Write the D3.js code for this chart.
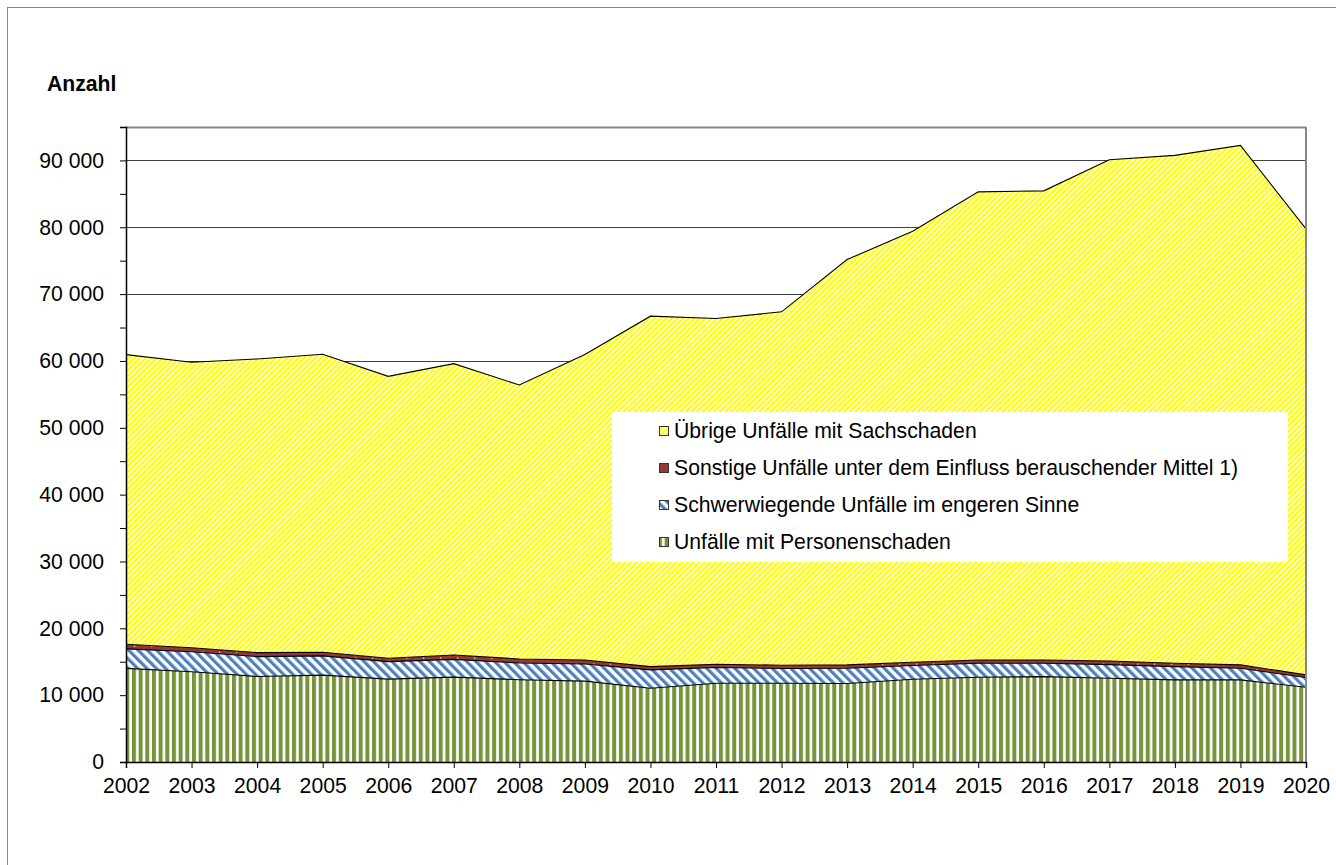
<!DOCTYPE html>
<html>
<head>
<meta charset="utf-8">
<script src="https://cdn.jsdelivr.net/npm/d3@7"></script>
<style>
  body { margin: 0; background: #fff; }
  svg { display: block; font-family: "Liberation Sans", Arial, sans-serif; }
</style>
</head>
<body>
<div id="chart"></div>
<script>
// values
var years = [2002, 2003, 2004, 2005, 2006, 2007, 2008, 2009, 2010, 2011, 2012, 2013, 2014, 2015, 2016, 2017, 2018, 2019, 2020];
var personenschaden = [14000, 13500, 12800, 13000, 12400, 12700, 12300, 12100, 11030, 11780, 11780, 11750, 12380, 12680, 12780, 12530, 12280, 12280, 11180];
var schwerwiegend = [2920, 3000, 2970, 2870, 2620, 2650, 2520, 2570, 2750, 2350, 2200, 2280, 2050, 2100, 2000, 2040, 1990, 1750, 1450];
var sonstige = [700, 600, 600, 550, 500, 650, 600, 600, 490, 500, 500, 500, 500, 490, 490, 550, 510, 500, 400];
var uebrige = [43330, 42700, 43930, 44580, 42180, 43600, 40980, 45680, 52430, 51720, 52870, 60640, 64470, 70030, 70180, 74980, 75970, 77720, 66720];

var keys = ['personen', 'schwer', 'sonstige', 'uebrige'];
var legendLabels = {
  uebrige: 'Übrige Unfälle mit Sachschaden',
  sonstige: 'Sonstige Unfälle unter dem Einfluss berauschender Mittel 1)',
  schwer: 'Schwerwiegende Unfälle im engeren Sinne',
  personen: 'Unfälle mit Personenschaden'
};
var legendOrder = ['uebrige', 'sonstige', 'schwer', 'personen'];
var yTickValues = [0, 10000, 20000, 30000, 40000, 50000, 60000, 70000, 80000, 90000];

var table = years.map(function(yr, i) {
  return { year: yr, personen: personenschaden[i], schwer: schwerwiegend[i], sonstige: sonstige[i], uebrige: uebrige[i] };
});

var W = 1336, H = 865;
var margin = { top: 127, right: 30, bottom: 103, left: 126 };
var width = W - margin.left - margin.right,
  height = H - margin.top - margin.bottom;
var fontSize = '21.2px';

var svg = d3.select('#chart').append('svg')
  .attr('width', W)
  .attr('height', H);

// patterns
var defs = svg.append('defs');

var pY = defs.append('pattern').attr('id', 'pYellow')
  .attr('patternUnits', 'userSpaceOnUse')
  .attr('width', 4).attr('height', 4)
  .attr('patternTransform', 'rotate(45)');
pY.append('rect').attr('width', 4).attr('height', 4).attr('fill', '#fff');
pY.append('rect').attr('width', 2.4).attr('height', 4).attr('fill', '#ffff00');

var pB = defs.append('pattern').attr('id', 'pBlue')
  .attr('patternUnits', 'userSpaceOnUse')
  .attr('width', 6.6).attr('height', 6.6)
  .attr('patternTransform', 'rotate(-45)');
pB.append('rect').attr('width', 6.6).attr('height', 6.6).attr('fill', '#fff');
pB.append('rect').attr('width', 3.2).attr('height', 6.6).attr('fill', '#4f81bd');

var pG = defs.append('pattern').attr('id', 'pGreen')
  .attr('patternUnits', 'userSpaceOnUse')
  .attr('x', margin.left)
  .attr('width', 6.67).attr('height', 10);
pG.append('rect').attr('width', 6.67).attr('height', 10).attr('fill', '#fff');
pG.append('rect').attr('width', 4).attr('height', 10).attr('fill', '#77933c');

var pR = defs.append('pattern').attr('id', 'pRed')
  .attr('patternUnits', 'userSpaceOnUse')
  .attr('width', 17).attr('height', 6);
pR.append('rect').attr('width', 17).attr('height', 6).attr('fill', '#953735');
pR.append('rect').attr('x', 8).attr('y', 2.5).attr('width', 1.3).attr('height', 1.3).attr('fill', '#f2dcdb');

var fills = { personen: 'url(#pGreen)', schwer: 'url(#pBlue)', sonstige: 'url(#pRed)', uebrige: 'url(#pYellow)' };

// outer frame
svg.append('rect')
  .attr('x', 7.5).attr('y', 7.5)
  .attr('width', W).attr('height', H)
  .attr('fill', 'none')
  .attr('stroke', '#868686')
  .attr('stroke-width', 1);

var x = d3.scaleLinear().domain([2002, 2020]).range([0, width]);
var y = d3.scaleLinear().domain([0, 95000]).range([height, 0]);

var g = svg.append('g')
  .attr('transform', 'translate(' + margin.left + ',' + margin.top + ')');

// gridlines
g.append('g')
  .selectAll('line')
  .data(yTickValues.slice(1))
  .enter()
  .append('line')
  .attr('x1', 0).attr('x2', width)
  .attr('y1', function(d) { return Math.round(y(d)) + 0.5; })
  .attr('y2', function(d) { return Math.round(y(d)) + 0.5; })
  .attr('stroke', '#404040')
  .attr('stroke-width', 1);

var stack = d3.stack().keys(keys);
var series = stack(table);

var area = d3.area()
  .x(function(d) { return x(d.data.year); })
  .y0(function(d) { return y(d[0]); })
  .y1(function(d) { return y(d[1]); });

var topLine = d3.line()
  .x(function(d) { return x(d.data.year); })
  .y(function(d) { return y(d[1]); });

g.append('g')
  .selectAll('path')
  .data(series)
  .enter()
  .append('path')
  .attr('d', area)
  .attr('fill', function(d) { return fills[d.key]; });

g.append('g')
  .selectAll('path')
  .data(series)
  .enter()
  .append('path')
  .attr('d', topLine)
  .attr('fill', 'none')
  .attr('stroke', '#000')
  .attr('stroke-width', 1.1);

// plot frame top / right
g.append('line')
  .attr('x1', 0).attr('x2', width)
  .attr('y1', 0.5).attr('y2', 0.5)
  .attr('stroke', '#868686').attr('stroke-width', 2);
g.append('line')
  .attr('x1', width).attr('x2', width)
  .attr('y1', 0).attr('y2', height)
  .attr('stroke', '#868686').attr('stroke-width', 2);

// y axis
var yAxis = d3.axisLeft(y)
  .tickValues(d3.range(0, 95001, 5000))
  .tickSize(6)
  .tickPadding(16)
  .tickFormat(function(d) {
    return d % 10000 === 0 ? d3.format(',')(d).replace(/,/g, ' ') : '';
  });

var yg = g.append('g').call(yAxis);
yg.select('.domain').attr('stroke', '#000').attr('stroke-width', 1.5);
yg.selectAll('.tick line').attr('stroke', '#000');
yg.selectAll('.tick text')
  .attr('font-size', fontSize)
  .attr('fill', '#000');

// x axis
var xAxis = d3.axisBottom(x)
  .tickValues(years)
  .tickSize(6)
  .tickPadding(10)
  .tickFormat(d3.format('d'));

var xg = g.append('g')
  .attr('transform', 'translate(0,' + height + ')')
  .call(xAxis);
xg.select('.domain').attr('stroke', '#000').attr('stroke-width', 1.5);
xg.selectAll('.tick line').attr('stroke', '#000');
xg.selectAll('.tick text')
  .attr('font-size', fontSize)
  .attr('fill', '#000');

// unit label
svg.append('text')
  .attr('x', 47)
  .attr('y', 91)
  .attr('font-size', fontSize)
  .attr('font-weight', 'bold')
  .text('Anzahl');

// legend
var legend = svg.append('g').attr('transform', 'translate(612,412)');
legend.append('rect')
  .attr('width', 676)
  .attr('height', 150)
  .attr('fill', '#fff');

var rows = legend.selectAll('.lg')
  .data(legendOrder)
  .enter()
  .append('g')
  .attr('class', 'lg')
  .attr('transform', function(d, i) { return 'translate(0,' + (19 + i * 37) + ')'; });

rows.append('rect')
  .attr('x', 47.5).attr('y', -4.5)
  .attr('width', 9).attr('height', 9)
  .attr('fill', function(d) { return fills[d]; })
  .attr('stroke', '#333')
  .attr('stroke-width', 1);

rows.append('text')
  .attr('x', 62)
  .attr('y', 0)
  .attr('dy', '0.35em')
  .attr('font-size', fontSize)
  .attr('fill', '#000')
  .text(function(d) { return legendLabels[d]; });
</script>
</body>
</html>
